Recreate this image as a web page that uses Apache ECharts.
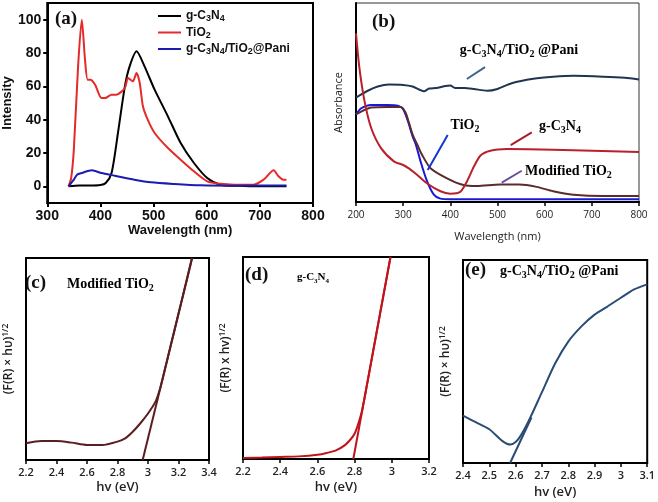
<!DOCTYPE html>
<html><head><meta charset="utf-8">
<script src="https://cdn.jsdelivr.net/npm/echarts@6/dist/echarts.min.js"></script>
<style>html,body{margin:0;padding:0;background:#fff}#c{width:658px;height:502px}</style>
</head><body><div id="c"></div><script>
// ---------- Panel (a): PL spectra ----------
const aXTicks = [300, 400, 500, 600, 700, 800];
const aYTicks = [0, 20, 40, 60, 80, 100];
const aC3N4X = [340,360,380,400,410,421,433,446,455,468,483,502,527,551,576,601,626,660,700,750];
const aC3N4Y = [0,0.5,0.5,0.8,2,8,32,60,72,81,72,58,42,26,14,5,1,0.3,0,0];
const aTiO2X = [340,345,350,358,365,371,376,381,390,402,409,421,430,446,452,461,468,474,480,489,502,527,551,576,601,626,651,688,707,726,735,744,750];
const aTiO2Y = [0,5,22,72,100,76,64,64,61,53,53,55,55,59,65,63,68,62,48,40,32,23,16,9,3,1.5,1,1,4,9.6,6,4,4];
const aPaniX = [340,350,356,365,384,402,427,464,495,539,589,651,750];
const aPaniY = [0,4,7,8,9.6,8,6.4,4,2.4,1.4,0.6,0.4,0.5];
const aNames = ['g-C3N4', 'TiO2', 'g-C3N4/TiO2@Pani'];

// ---------- Panel (b): absorbance ----------
const bXTicks = [200,300,400,500,600,700,800];
const bPaniX = [200,225,246,270,300,320,335,344,355,370,390,400,410,430,450,478,500,530,576,618,661,724,770,800];
const bPaniY = [52.5,55.9,58,59,58.8,58,56.4,55.6,57,57.3,58.3,58.5,57.3,57.3,56.8,55.9,56.8,59.7,61.9,62.9,63.4,63,62.4,61.5];
const bTiO2X = [200,211,232,267,290,300,310,320,327,337,351,365,379,400,500,800];
const bTiO2Y = [44,47.1,48.8,48.8,48.3,46.6,40.7,33,28.8,20.3,10.2,3.7,1.7,1.4,1.4,1.4];
const bModX = [200,232,267,295,305,312,320,330,340,358,393,428,456,505,547,583,618,661,724,800];
const bModY = [44,47.5,47.8,47.8,45,40,33.9,28.8,23.7,17,11.9,8.5,8,8.8,8.8,7.6,5.4,3.7,3,3];
const bC3N4X = [200,207,218,232,253,281,300,312,330,351,379,400,421,435,450,464,485,520,618,800];
const bC3N4Y = [84.7,67.8,50.8,37.3,27.1,20.3,18.6,16.9,13.6,9.3,5.4,4.2,5.1,10.2,17.8,23.4,25.8,26.6,26.3,25.1];
const bPointerPani = [[435,61.8],[473.5,67.8]];
const bPointerTiO2 = [[394.4,33.7],[352,16.1]];
const bPointerC3N4 = [[572.7,35.0],[528,28.6]];
const bPointerMod = [[551.4,15.7],[509,9.7]];

// ---------- Panel (c): Tauc modified TiO2 ----------
const cX = [2.2,2.3,2.4,2.5,2.6,2.7,2.8,2.85,2.9,2.95,3.0,3.05,3.08,3.1,3.15,3.2,3.25,3.288];
const cY = [8.3,9.4,9.4,8.6,7.4,7.4,9.1,10.7,14,18.2,23,29,35.5,41.5,57,72.5,88,100];
const cTanX = [2.965, 3.29];
const cTanY = [0, 100];

// ---------- Panel (d): Tauc g-C3N4 ----------
const dX = [2.2,2.3,2.4,2.5,2.6,2.65,2.7,2.75,2.78,2.8,2.82,2.84,2.87,2.9,2.95,2.993];
const dY = [0.5,0.7,1,1.3,2.1,3,4.3,7,9.9,12.5,17.5,24,38.5,53.5,78.5,100];
const dTanX = [2.793, 2.993];
const dTanY = [0, 100];

// ---------- Panel (e): Tauc g-C3N4/TiO2@Pani ----------
const eX = [2.4,2.45,2.5,2.55,2.58,2.6,2.62,2.65,2.7,2.75,2.8,2.85,2.9,2.95,3.0,3.05,3.1];
const eY = [23.3,20,16.6,10.8,9.1,10.3,13.6,20.8,34.9,49,59.8,67.3,73.1,77.2,81.4,85.5,88];
const eTanX = [2.579, 2.66];
const eTanY = [0, 22.4];

function zip(xs, ys) { return xs.map((x, i) => [x, ys[i]]); }
function chem(str, m, s) {
  let out = '', buf = '';
  for (const ch of str) {
    if (/\d/.test(ch)) { if (buf) out += '{' + m + '|' + buf + '}'; buf = ''; out += '{' + s + '|' + ch + '}'; }
    else buf += ch;
  }
  if (buf) out += '{' + m + '|' + buf + '}';
  return out;
}
const SERIF = '"Liberation Serif","DejaVu Serif",serif';
const SANS = '"Liberation Sans",Arial,sans-serif';
const CAL = '"Open Sans","Noto Sans",sans-serif';

const serifRich = (size, color) => ({
  m: {fontFamily: SERIF, fontWeight: 'bold', fontSize: size, color: color, lineHeight: size + 4},
  s: {fontFamily: SERIF, fontWeight: 'bold', fontSize: Math.round(size * 0.68), color: color, lineHeight: Math.round(size * 0.68), verticalAlign: 'bottom'}
});
const tauRich = {
  m: {fontFamily: CAL, fontWeight: 600, fontSize: 12, color: '#222', lineHeight: 16},
  p: {fontFamily: CAL, fontWeight: 600, fontSize: 8.5, color: '#222', lineHeight: 8, verticalAlign: 'top'}
};

function tauX(idx, min, max, interval, gap) {
  return {
    gridIndex: idx, type: 'value', min: min, max: max, interval: interval,
    name: 'hv (eV)', nameLocation: 'middle', nameGap: gap,
    nameTextStyle: {fontFamily: CAL, fontSize: 13, fontWeight: 600, color: '#222'},
    axisLine: {onZero: false, lineStyle: {color: '#000', width: 2}},
    axisTick: {show: true, length: 4, lineStyle: {color: '#000', width: 1.5}},
    axisLabel: {fontFamily: CAL, fontSize: 11, fontWeight: 600, color: '#222', margin: 7},
    splitLine: {show: false}
  };
}
function tauY(idx, nameText, gap) {
  return {
    gridIndex: idx, type: 'value', min: 0, max: 100,
    name: nameText, nameLocation: 'middle', nameGap: gap, nameRotate: 90,
    nameTextStyle: {rich: tauRich},
    axisLine: {onZero: false, lineStyle: {color: '#000', width: 2}},
    axisTick: {show: false}, axisLabel: {show: false}, splitLine: {show: false}
  };
}
function line(xi, yi, data, color, width, name) {
  return {type: 'line', name: name, xAxisIndex: xi, yAxisIndex: yi, data: data, showSymbol: false,
    symbol: 'none', smooth: 0.25, lineStyle: {color: color, width: width}, itemStyle: {color: color}};
}
function pointer(coords, color) {
  return {silent: true, symbol: ['none', 'none'], label: {show: false},
    lineStyle: {color: color, width: 2, type: 'solid'},
    data: [[{coord: coords[0]}, {coord: coords[1]}]]};
}

const chart = echarts.init(document.getElementById('c'), null, {renderer: 'canvas'});
const legRich = {
  m: {fontFamily: SANS, fontWeight: 'bold', fontSize: 12, color: '#111', lineHeight: 15},
  s: {fontFamily: SANS, fontWeight: 'bold', fontSize: 9, color: '#111', lineHeight: 9, verticalAlign: 'bottom'}
};
const label = (x, y, t) => ({type: 'text', x: x, y: y, style: {text: t, font: 'bold 19px ' + SERIF, fill: '#111', align: 'left', verticalAlign: 'middle'}});
const chemText = (x, y, t, size, align) => ({type: 'text', x: x, y: y, style: {text: chem(t, 'm', 's'), rich: serifRich(size, '#222'), align: align, verticalAlign: 'middle'}});

const option = {
  animation: false,
  backgroundColor: '#fff',
  grid: [
    {left: 46, top: 3, width: 267, height: 200, show: true, borderColor: '#000', borderWidth: 2},
    {left: 356, top: 3, width: 283, height: 199, show: true, borderColor: '#333', borderWidth: 1},
    {left: 23, top: 258, width: 186, height: 202, show: true, borderColor: '#000', borderWidth: 2},
    {left: 243, top: 257, width: 186, height: 202, show: true, borderColor: '#000', borderWidth: 2},
    {left: 463, top: 260, width: 185, height: 203, show: true, borderColor: '#000', borderWidth: 2}
  ],
  legend: {
    left: 158, top: 10, orient: 'vertical', itemGap: 3, itemWidth: 23, itemHeight: 2, icon: 'rect',
    data: aNames, formatter: n => chem(n, 'm', 's'), textStyle: {rich: legRich}, padding: 0
  },
  xAxis: [
    {gridIndex: 0, type: 'value', min: 300, max: 800, interval: 100,
      name: 'Wavelength (nm)', nameLocation: 'middle', nameGap: 19,
      nameTextStyle: {fontFamily: SANS, fontWeight: 'bold', fontSize: 13, color: '#111'},
      axisLine: {onZero: false, lineStyle: {color: '#000', width: 2}},
      axisTick: {length: 4, lineStyle: {color: '#000', width: 2}},
      axisLabel: {fontFamily: SANS, fontWeight: 'bold', fontSize: 14, color: '#111', margin: 6,
        customValues: aXTicks},
      splitLine: {show: false}},
    {gridIndex: 1, type: 'value', min: 200, max: 800, interval: 100,
      name: 'Wavelength (nm)', nameLocation: 'middle', nameGap: 29,
      nameTextStyle: {fontFamily: CAL, fontSize: 11, color: '#222'},
      axisLine: {onZero: false, lineStyle: {color: '#000', width: 2}},
      axisTick: {length: 4, lineStyle: {color: '#000', width: 1.5}},
      axisLabel: {fontFamily: CAL, fontSize: 10, color: '#222', margin: 8, customValues: bXTicks},
      splitLine: {show: false}},
    tauX(2, 2.2, 3.4, 0.2, 21),
    tauX(3, 2.2, 3.2, 0.2, 22),
    tauX(4, 2.4, 3.1, 0.1, 23)
  ],
  yAxis: [
    {gridIndex: 0, type: 'value', min: -10, max: 110,
      name: 'Intensity', nameLocation: 'middle', nameGap: 32, nameRotate: 90,
      nameTextStyle: {fontFamily: SANS, fontWeight: 'bold', fontSize: 13, color: '#111'},
      axisLine: {onZero: false, lineStyle: {color: '#000', width: 2}},
      axisTick: {length: 4, lineStyle: {color: '#000', width: 2}, customValues: aYTicks},
      axisLabel: {fontFamily: SANS, fontWeight: 'bold', fontSize: 14, color: '#111', margin: 6, customValues: aYTicks},
      splitLine: {show: false}},
    {gridIndex: 1, type: 'value', min: 0, max: 100,
      name: 'Absorbance', nameLocation: 'middle', nameGap: 12, nameRotate: 90,
      nameTextStyle: {fontFamily: CAL, fontSize: 11, color: '#222'},
      axisLine: {onZero: false, lineStyle: {color: '#000', width: 2}},
      axisTick: {show: false}, axisLabel: {show: false}, splitLine: {show: false}},
    tauY(2, '{m|(F(R) × hυ)}{p|1/2}', 9),
    tauY(3, '{m|(F(R) x hv)}{p|1/2}', 9),
    tauY(4, '{m|(F(R) × hυ)}{p|1/2}', 9)
  ],
  series: [
    line(0, 0, zip(aC3N4X, aC3N4Y), '#000000', 2, aNames[0]),
    line(0, 0, zip(aTiO2X, aTiO2Y), '#e52a2a', 2, aNames[1]),
    line(0, 0, zip(aPaniX, aPaniY), '#1c1cb0', 2, aNames[2]),
    Object.assign(line(1, 1, zip(bPaniX, bPaniY), '#1f3550', 2), {markLine: pointer(bPointerPani, '#3c6890')}),
    Object.assign(line(1, 1, zip(bTiO2X, bTiO2Y), '#1818d8', 2), {markLine: pointer(bPointerTiO2, '#1836d0')}),
    Object.assign(line(1, 1, zip(bModX, bModY), '#5a2c2c', 2), {markLine: pointer(bPointerMod, '#6a4fa0')}),
    Object.assign(line(1, 1, zip(bC3N4X, bC3N4Y), '#b8202a', 2), {markLine: pointer(bPointerC3N4, '#a81e28')}),
    line(2, 2, zip(cX, cY), '#5a1e20', 2),
    Object.assign(line(2, 2, zip(cTanX, cTanY), '#5a1e20', 2), {smooth: false}),
    line(3, 3, zip(dX, dY), '#c0141c', 2),
    Object.assign(line(3, 3, zip(dTanX, dTanY), '#c0141c', 2), {smooth: false}),
    line(4, 4, zip(eX, eY), '#2a4c74', 2),
    Object.assign(line(4, 4, zip(eTanX, eTanY), '#2a4c74', 2), {smooth: false})
  ],
  graphic: [
    label(55, 19, '(a)'),
    label(372, 22, '(b)'),
    chemText(519, 50, 'g-C3N4/TiO2 @Pani', 14, 'center'),
    chemText(465, 125, 'TiO2', 14, 'center'),
    chemText(560, 126, 'g-C3N4', 14, 'center'),
    chemText(525, 171, 'Modified TiO2', 14, 'left'),
    label(25, 283, '(c)'),
    chemText(67, 284, 'Modified TiO2', 14, 'left'),
    label(245, 275, '(d)'),
    chemText(297, 277, 'g-C3N4', 11, 'left'),
    label(465, 270, '(e)'),
    chemText(500, 271, 'g-C3N4/TiO2 @Pani', 14, 'left')
  ]
};
chart.setOption(option);
</script></body></html>
